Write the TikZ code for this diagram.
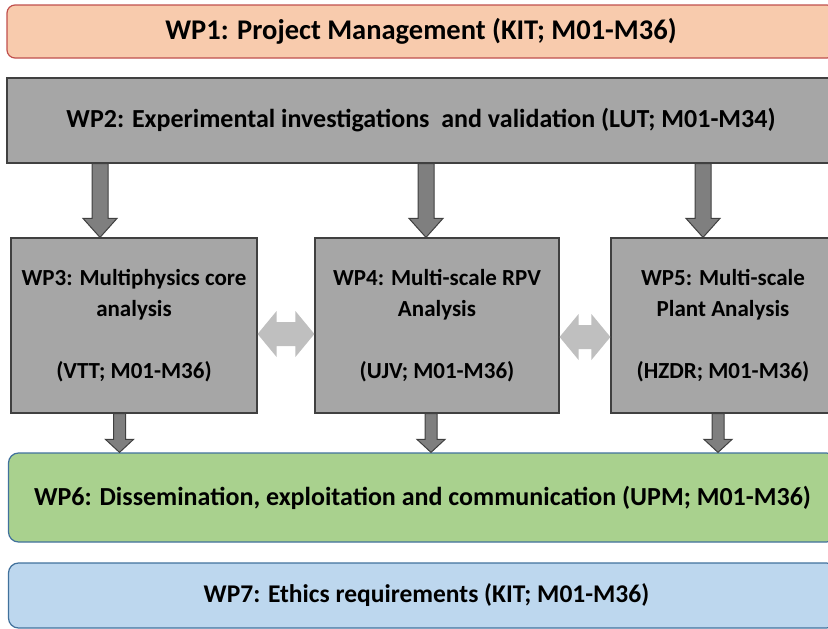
\documentclass[tikz,border=0pt]{standalone}
\usepackage{fontspec}
\setmainfont{Carlito}
\usetikzlibrary{calc}
\definecolor{pmfill}{HTML}{F8CBAD}
\definecolor{pmline}{HTML}{C0504D}
\definecolor{wpgray}{HTML}{A6A6A6}
\definecolor{wpdark}{HTML}{404040}
\definecolor{flowgray}{HTML}{7F7F7F}
\definecolor{swapgray}{HTML}{BFBFBF}
\definecolor{dissfill}{HTML}{A9D18E}
\definecolor{ethfill}{HTML}{BDD7EE}
\definecolor{blueline}{HTML}{41719C}

\newcommand{\wpflow}[5]{%
  \filldraw[flow] let \p1=(#1), \p2=(#2) in
    (\x1-#3pt,\y1) -- (\x1+#3pt,\y1) -- (\x1+#3pt,\y2+#5pt) -- (\x1+#4pt,\y2+#5pt)
    -- (\x1,\y2) -- (\x1-#4pt,\y2+#5pt) -- (\x1-#3pt,\y2+#5pt) -- cycle;}
\newcommand{\wpswap}[5]{%
  \fill[swap] let \p1=(#1), \p2=(#2) in
    (\x1,\y1) -- (\x1+#5pt,\y1+#4pt) -- (\x1+#5pt,\y1+#3pt) -- (\x2-#5pt,\y1+#3pt)
    -- (\x2-#5pt,\y1+#4pt) -- (\x2,\y1) -- (\x2-#5pt,\y1-#4pt) -- (\x2-#5pt,\y1-#3pt)
    -- (\x1+#5pt,\y1-#3pt) -- (\x1+#5pt,\y1-#4pt) -- cycle;}

\begin{document}
\begin{tikzpicture}[x=1pt,y=-1pt,
  wide/.style={minimum width=828pt,inner sep=0pt,font=\fontsize{26}{30}\selectfont\bfseries},
  wpbox/.style={draw=wpdark,fill=wpgray,line width=1.2pt,minimum height=175pt,inner sep=0pt,
    align=center,font=\fontsize{23}{31}\selectfont\bfseries},
  flow/.style={fill=flowgray,draw=wpdark,line width=1pt},
  swap/.style={fill=swapgray}]
\useasboundingbox (0,0) rectangle (828,629);
\clip (0,0) rectangle (828,629);

\node[wide,draw=pmline,fill=pmfill,line width=1.2pt,rounded corners=8pt,minimum height=53pt,
  font=\fontsize{28.5}{32}\selectfont\bfseries] (wp1) at (421,31.5)
  {WP1: Project Management (KIT; M01-M36)};
\node[wide,draw=wpdark,fill=wpgray,line width=1.2pt,minimum height=85pt] (wp2) at (421,120.5)
  {WP2: Experimental investigations\ \ and validation (LUT; M01-M34)};

\node[wpbox,minimum width=246pt] (wp3) at (134,325.5) {WP3: Multiphysics core\\analysis\\ \\(VTT; M01-M36)};
\node[wpbox,minimum width=244pt] (wp4) at (437,325.5) {WP4: Multi-scale RPV\\Analysis\\ \\(UJV; M01-M36)};
\node[wpbox,minimum width=224pt] (wp5) at (723,325.5) {WP5: Multi-scale\\Plant Analysis\\ \\(HZDR; M01-M36)};

\node[wide,draw=blueline,fill=dissfill,line width=1.2pt,rounded corners=10pt,minimum height=89pt] (wp6) at (422.5,497.5)
  {WP6: Dissemination, exploitation and communication (UPM; M01-M36)};
\node[wide,draw=blueline,fill=ethfill,line width=1.2pt,rounded corners=10pt,minimum height=65pt,
  font=\fontsize{25.5}{30}\selectfont\bfseries] (wp7) at (422.5,595.5)
  {\hspace*{8pt}WP7: Ethics requirements (KIT; M01-M36)};

\coordinate (a3) at ($(wp3.north)+(-34,0)$);
\coordinate (a4) at ($(wp4.north)+(-11,0)$);
\coordinate (a5) at ($(wp5.north)+(-20,0)$);
\wpflow{wp2.south -| a3}{wp3.north -| a3}{8}{17}{19}
\wpflow{wp2.south -| a4}{wp4.north -| a4}{8}{17}{19}
\wpflow{wp2.south -| a5}{wp5.north -| a5}{8}{17}{19}

\coordinate (b3) at ($(wp3.south)+(-14.5,0)$);
\coordinate (b4) at ($(wp4.south)+(-6,0)$);
\coordinate (b5) at ($(wp5.south)+(-5,0)$);
\wpflow{b3}{wp6.north -| b3}{6}{14}{13}
\wpflow{b4}{wp6.north -| b4}{6}{14}{13}
\wpflow{b5}{wp6.north -| b5}{6}{14}{13}

\coordinate (s1) at (0,334);
\coordinate (s2) at (0,337);
\wpswap{wp3.east |- s1}{wp4.west |- s1}{12}{23}{19}
\wpswap{wp4.east |- s2}{wp5.west |- s2}{12}{23}{19}
\end{tikzpicture}
\end{document}
